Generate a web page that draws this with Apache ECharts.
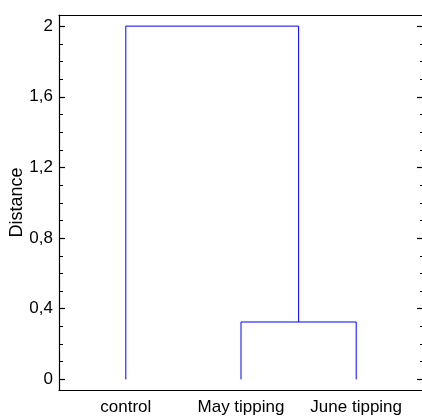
<!DOCTYPE html>
<html>
<head>
<meta charset="utf-8">
<script src="https://cdn.jsdelivr.net/npm/echarts@6/dist/echarts.min.js"></script>
<style>html,body{margin:0;padding:0;background:#fff;}#c{width:422px;height:416px;}</style>
</head>
<body>
<div id="c"></div>
<script>
// Leaves of the dendrogram (x positions 1..3)
var leaves = ['control', 'May tipping', 'June tipping'];
// Merge heights (distance)
var mergeMayJune = 0.325;
var mergeAll = 2.0;
// Y tick values
var yMajorTicks = [0, 0.4, 0.8, 1.2, 1.6, 2];
var yMinorTicks = [0.1, 0.2, 0.3, 0.5, 0.6, 0.7, 0.9, 1.0, 1.1, 1.3, 1.4, 1.5, 1.7, 1.8, 1.9];

// Links of the dendrogram (built from the values above)
var xMay = 2, xJune = 3, xControl = 1;
var xMid = (xMay + xJune) / 2;
var link1 = [[xMay, 0], [xMay, mergeMayJune], [xJune, mergeMayJune], [xJune, 0]];
var link2 = [[xControl, 0], [xControl, mergeAll], [xMid, mergeAll], [xMid, mergeMayJune]];

var FONT = 'Liberation Sans, Arial, sans-serif';
var yMin = -0.06, yMax = 2.063;
var xMin = 0.42, xMax = 3.58;

function fmt(v) { return String(Math.round(v * 10) / 10).replace('.', ','); }

var chart = echarts.init(document.getElementById('c'), null, {renderer: 'canvas'});
var lineStyle = {color: '#000', width: 1.2};
chart.setOption({
  animation: false,
  backgroundColor: '#fff',
  grid: {left: 59, right: -1, top: 15, bottom: 26, containLabel: false, outerBoundsMode: 'none'},
  xAxis: [
    {type: 'value', position: 'bottom', min: xMin, max: xMax,
     axisLine: {show: true, onZero: false, lineStyle: lineStyle},
     axisTick: {show: false}, splitLine: {show: false},
     axisLabel: {customValues: [1, 2, 3], margin: 9, color: '#000', fontSize: 17, fontFamily: FONT,
       formatter: function (v) { return leaves[Math.round(v) - 1] || ''; }}},
    {type: 'value', position: 'top', min: xMin, max: xMax,
     axisLine: {show: true, onZero: false, lineStyle: lineStyle},
     axisTick: {show: false}, axisLabel: {show: false}, splitLine: {show: false}}
  ],
  yAxis: [
    {type: 'value', position: 'left', min: yMin, max: yMax,
     name: 'Distance', nameLocation: 'middle', nameGap: 33, nameRotate: 90, nameMoveOverlap: false,
     nameTextStyle: {color: '#000', fontSize: 18, fontFamily: FONT},
     axisLine: {show: true, onZero: false, lineStyle: lineStyle},
     axisTick: {show: true, inside: true, length: 6, customValues: yMajorTicks, lineStyle: {color: '#000', width: 1.2}},
     axisLabel: {customValues: yMajorTicks, margin: 6, color: '#000', fontSize: 17, fontFamily: FONT, formatter: fmt},
     splitLine: {show: false}},
    {type: 'value', position: 'left', min: yMin, max: yMax,
     axisLine: {show: false},
     axisTick: {show: true, inside: true, length: 4, customValues: yMinorTicks, lineStyle: {color: '#000', width: 1}},
     axisLabel: {show: false}, splitLine: {show: false}},
    {type: 'value', position: 'right', min: yMin, max: yMax,
     axisLine: {show: false},
     axisTick: {show: true, inside: true, length: 6, customValues: yMajorTicks, lineStyle: {color: '#000', width: 1.2}},
     axisLabel: {show: false}, splitLine: {show: false}},
    {type: 'value', position: 'right', min: yMin, max: yMax,
     axisLine: {show: false},
     axisTick: {show: true, inside: true, length: 3, customValues: yMinorTicks, lineStyle: {color: '#000', width: 1}},
     axisLabel: {show: false}, splitLine: {show: false}}
  ],
  series: [
    {type: 'line', xAxisIndex: 0, yAxisIndex: 0, data: link1, symbol: 'none',
     lineStyle: {color: '#0000ff', width: 1}, silent: true},
    {type: 'line', xAxisIndex: 0, yAxisIndex: 0, data: link2, symbol: 'none',
     lineStyle: {color: '#0000ff', width: 1}, silent: true}
  ]
});
</script>
</body>
</html>
